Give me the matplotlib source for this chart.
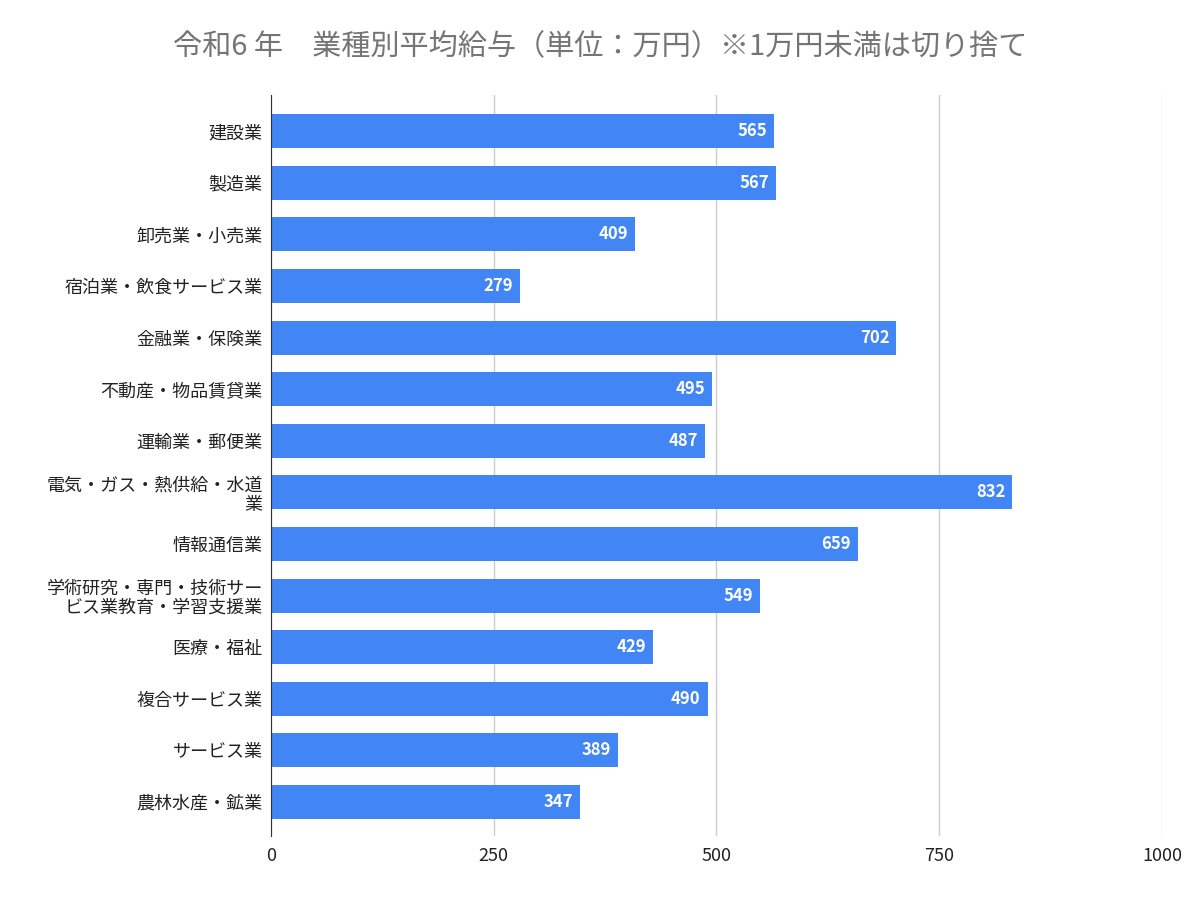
import matplotlib.pyplot as plt

plt.rcParams['font.family'] = ['Noto Sans CJK JP', 'DejaVu Sans']

industries = ['建設業', '製造業', '卸売業・小売業', '宿泊業・飲食サービス業', '金融業・保険業',
              '不動産・物品賃貸業', '運輸業・郵便業', '電気・ガス・熱供給・水道\n業', '情報通信業',
              '学術研究・専門・技術サー\nビス業教育・学習支援業', '医療・福祉', '複合サービス業',
              'サービス業', '農林水産・鉱業']
salary = [565, 567, 409, 279, 702, 495, 487, 832, 659, 549, 429, 490, 389, 347]
xticks = [0, 250, 500, 750, 1000]

fig = plt.figure(figsize=(12, 8.97), dpi=100)
ax = fig.add_axes([0.2258, 0.068, 0.7425, 0.826])

pos = list(range(len(industries)))
ax.barh(pos, salary, height=0.66, color='#4285F4', zorder=3)
for p, v in zip(pos, salary):
    ax.annotate(str(v), (v, p), xytext=(-5, 0), textcoords='offset points',
                ha='right', va='center', color='white', fontsize=12, fontweight='bold')

ax.set_xlim(0, 1000)
ax.set_ylim(13.66, -0.70)
ax.set_xticks(xticks)
ax.set_xticklabels([str(t) for t in xticks], fontsize=13, color='#222222')
ax.set_yticks(pos)
ax.set_yticklabels(industries, fontsize=13, color='#222222', linespacing=1.1)
ax.tick_params(axis='y', length=0, pad=6)
ax.tick_params(axis='x', length=0, pad=8)
ax.grid(axis='x', color='#cccccc', linewidth=1, zorder=0)
for s in ['top', 'right', 'bottom']:
    ax.spines[s].set_visible(False)
ax.spines['left'].set_color('#333333')
ax.spines['left'].set_zorder(4)

fig.text(0.5, 0.947, '令和6 年　業種別平均給与（単位：万円）※1万円未満は切り捨て',
         ha='center', va='center', fontsize=21, color='#757575')

fig.savefig('out.png')
